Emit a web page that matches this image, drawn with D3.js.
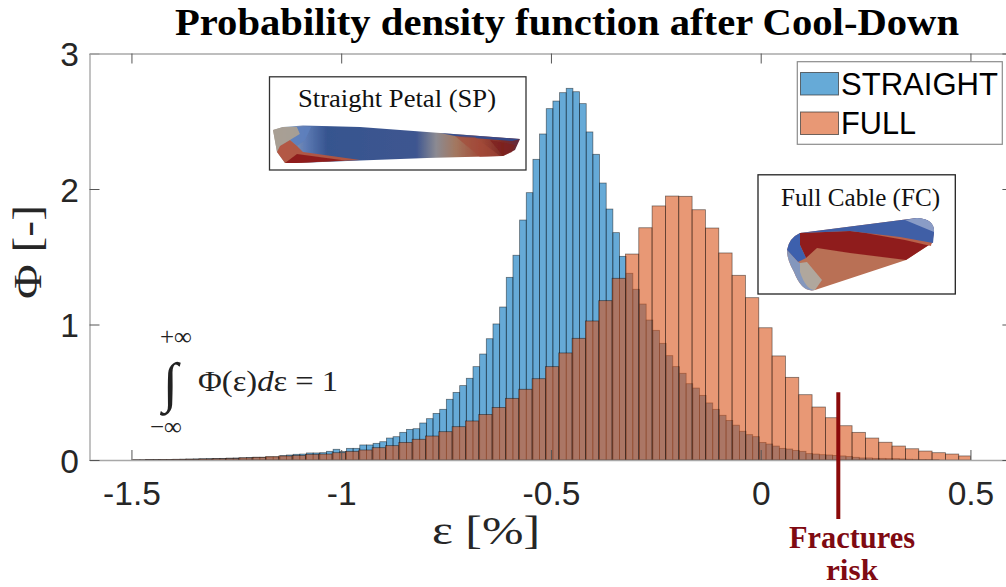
<!DOCTYPE html>
<html><head><meta charset="utf-8">
<script src="https://d3js.org/d3.v7.min.js"></script>
<style>html,body{margin:0;padding:0;background:#fff}svg{display:block}</style>
</head><body><svg id="c" width="1006" height="587"></svg>
<script>
const straightStart=-1.4955, straightWidth=0.015876;
const straightValues=[.002,.002,.003,.003,.004,.004,.005,.006,.007,.008,.009,.010,.011,.012,.014,.015,.016,.018,.020,.020,.022,.022,.032,.037,.042,.044,.052,.052,.054,.064,.079,.062,.086,.086,.111,.111,.123,.135,.162,.172,.204,.226,.231,.273,.305,.344,.374,.448,.499,.549,.603,.689,.782,.895,1.004,1.129,1.348,1.511,1.771,1.973,2.219,2.406,2.593,2.649,2.711,2.743,2.718,2.630,2.421,2.256,2.044,1.852,1.678,1.503,1.378,1.260,1.151,1.033,.957,.861,.770,.689,.640,.563,.531,.477,.421,.374,.330,.292,.257,.212,.187,.172,.130,.118,.103,.086,.081,.071,.064,.047,.044,.039,.037,.034,.030,.025,.020,.015,.015,.012,.012,.010,.010,.008,.006,.005,.004,.003,.002];
const fullStart=-1.4983, fullWidth=0.03178;
const fullValues=[.002,.003,.004,.005,.006,.008,.010,.012,.016,.020,.025,.030,.034,.042,.044,.054,.064,.074,.091,.106,.130,.153,.177,.209,.246,.288,.336,.388,.455,.522,.600,.689,.790,.898,1.026,1.176,1.341,1.520,1.714,1.875,1.948,1.946,1.847,1.712,1.528,1.363,1.198,.976,.768,.610,.482,.391,.312,.253,.204,.162,.131,.103,.083,.066,.054,.044,.030];
const xTicks=[-1.5,-1,-0.5,0,0.5], xTickLabels=["-1.5","-1","-0.5","0","0.5"];
const yTicks=[0,1,2,3], yTickLabels=["0","1","2","3"];
const seriesNames=["STRAIGHT","FULL"];
const fractureStrain=0.185, fractureValue=0.5;
const xLimits=[-1.6,0.6], yLimits=[0,3], dataEnd=0.5;

const svg=d3.select("#c");
const x=d3.scaleLinear().domain(xLimits).range([89.5,1012.4]);
const y=d3.scaleLinear().domain(yLimits).range([460,53.5]);
const blue="rgb(0,114,189)", orange="rgb(217,83,25)";
const sans="'Liberation Sans',Arial,sans-serif", serif="'Liberation Serif','Times New Roman',serif";

function hist(vals,start,w,col){
  svg.append("g").selectAll("rect").data(vals).join("rect")
   .attr("x",(d,i)=>x(start+i*w))
   .attr("width",(d,i)=>x(Math.min(start+(i+1)*w,dataEnd))-x(start+i*w))
   .attr("y",d=>y(d)).attr("height",d=>y(0)-y(d))
   .attr("fill",col).attr("fill-opacity",.6)
   .attr("stroke","#000").attr("stroke-opacity",.5).attr("stroke-width",.8);
}
hist(straightValues,straightStart,straightWidth,blue);
hist(fullValues,fullStart,fullWidth,orange);

function styleAxis(g){g.selectAll("path.domain").attr("stroke","#a8a8a8").attr("stroke-width",1.4);
  g.selectAll(".tick line").attr("stroke","#555").attr("stroke-width",1);}
const ax=svg.append("g").attr("transform",`translate(0,${y(0)})`)
 .call(d3.axisBottom(x).tickValues(xTicks).tickFormat((d,i)=>xTickLabels[i]).tickSizeInner(-10).tickSizeOuter(0).tickPadding(0));
styleAxis(ax);
ax.selectAll("text").attr("font-family",sans).attr("font-size",33.5).attr("fill","#262626").attr("y",45).attr("dy",0);
const ay=svg.append("g").attr("transform",`translate(${x(xLimits[0])},0)`)
 .call(d3.axisLeft(y).tickValues(yTicks).tickFormat((d,i)=>yTickLabels[i]).tickSizeInner(-10).tickSizeOuter(0).tickPadding(0));
styleAxis(ay);
ay.selectAll("text").attr("font-family",sans).attr("font-size",33.5).attr("fill","#262626").attr("x",-10.5).attr("dy",12);
const at=svg.append("g").attr("transform",`translate(0,${y(yLimits[1])})`)
 .call(d3.axisTop(x).tickValues(xTicks).tickFormat("").tickSizeInner(-10).tickSizeOuter(0));
styleAxis(at);
const ar=svg.append("g").attr("transform",`translate(${x(xLimits[1])},0)`)
 .call(d3.axisRight(y).tickValues(yTicks).tickFormat("").tickSizeInner(-10).tickSizeOuter(0));
styleAxis(ar);

function T(s,px,py,o={}){const t=svg.append("text").text(s).attr("x",px).attr("y",py)
  .attr("font-family",o.f||serif).attr("font-size",o.s||20).attr("fill",o.c||"#111")
  .attr("font-weight",o.w||"normal").attr("font-style",o.i?"italic":"normal").attr("text-anchor",o.a||"start");
  if(o.len)t.attr("textLength",o.len).attr("lengthAdjust","spacingAndGlyphs");
  if(o.rot)t.attr("transform",`rotate(${o.rot} ${px} ${py})`);return t;}

T("Probability density function after Cool-Down",175,35,{s:37,w:"bold",c:"#000",len:784});
T("ε [%]",486,544,{s:41,a:"middle",c:"#262626",len:108});
T("Φ [-]",41,252,{s:41,a:"middle",c:"#262626",rot:-90,len:94});

// legend
svg.append("rect").attr("x",797.3).attr("y",61.7).attr("width",205).attr("height",82.6).attr("fill","#fff").attr("stroke","#8c8c8c").attr("stroke-width",1.2);
[[blue,72.5,94.5,157],[orange,112,134,75]].forEach((r,i)=>{
 svg.append("rect").attr("x",800.5).attr("y",r[1]).attr("width",38).attr("height",22.5).attr("fill",r[0]).attr("fill-opacity",.6).attr("stroke","#333").attr("stroke-opacity",.7).attr("stroke-width",1);
 T(seriesNames[i],841,r[2],{f:sans,s:31,c:"#000",len:r[3]});
});

// gradients and soft edge for the two raster-like inset pictures
const defs=svg.append("defs");
function grad(id,stops){const g=defs.append("linearGradient").attr("id",id).attr("x1","0%").attr("y1","0%").attr("x2","100%").attr("y2","0%");
 stops.forEach(s=>g.append("stop").attr("offset",s[0]).attr("stop-color",s[1]));return g;}
grad("petal",[[0,"#a89b8f"],[.06,"#8f9fb0"],[.13,"#5f7cb5"],[.22,"#36548f"],[.58,"#3e5690"],[.66,"#8b8a92"],[.74,"#a3775f"],[.84,"#a04a38"],[.93,"#7d2a26"],[1,"#5f2b3f"]]);
defs.append("filter").attr("id","soft").append("feGaussianBlur").attr("stdDeviation",.7);

// inset 1
svg.append("rect").attr("x",269.5).attr("y",76.8).attr("width",256.5).attr("height",93.2).attr("fill","#fff").attr("stroke","#333").attr("stroke-width",1.3);
T("Straight Petal (SP)",298,106.5,{s:26,len:198});
const pet=svg.append("g").attr("filter","url(#soft)");
const P=(g,pts,fill,op=1)=>g.append("polygon").attr("points",pts.map(p=>p.join(",")).join(" ")).attr("fill",fill).attr("fill-opacity",op);
P(pet,[[273,130],[283,127],[303,125.5],[360,127],[427,132],[520,139],[515,150],[503,156],[427,158],[360,160.5],[297,163],[285,163],[277,152]],"url(#petal)");
P(pet,[[273,130],[283,127],[297,127],[300,134],[290,140],[280,146],[277,152]],"#a99f94",.95);
P(pet,[[297,127],[311,127],[305,140],[297,146],[290,140],[300,134]],"#5d80bd",.9);
P(pet,[[277,152],[280,146],[290,140],[297,146],[303,152],[360,160],[297,163],[285,163]],"#b4553f",.95);
P(pet,[[285,163],[297,154],[345,160.5],[297,163]],"#8f1f1e");
P(pet,[[440,133],[520,139],[512,141],[460,137]],"#2e4c93",.9);
P(pet,[[455,136],[475,137],[500,156],[480,157]],"#a34a38",.6);
P(pet,[[490,140],[515,145],[512,152],[503,156]],"#7d1f1c",.7);

// inset 2
svg.append("rect").attr("x",758).attr("y",174.8).attr("width",197.3).attr("height",119.2).attr("fill","#fff").attr("stroke","#222").attr("stroke-width",1.3);
T("Full Cable (FC)",781,205.5,{s:26,len:159});
const cab=svg.append("g").attr("filter","url(#soft)");
cab.append("path").attr("d","M800,233 L917,218 Q935,219 934,233 L932,243 L906,260 L815,290 Q802,293 794,272 Q787,260 787,250 Q789,238 800,233Z").attr("fill","#b96f54");
P(cab,[[800,233],[850,231],[900,237],[932,243],[906,260],[850,253],[817,248],[806,258],[800,245]],"#8f1f1e");
P(cab,[[865,233],[900,236],[932,240],[931,246],[905,240]],"#b9604a");
cab.append("path").attr("d","M800,233 L917,218 Q935,219 934,233 L933,243 L900,237 L850,231 Z").attr("fill","#3f5ea6");
cab.append("path").attr("d","M905,220 L917,218 Q935,219 934,232 Z").attr("fill","#8a9cc6");
cab.append("path").attr("d","M787,250 Q789,238 800,233 L800,245 L806,258 L798,262 Z").attr("fill","#3d60ad");
cab.append("path").attr("d","M787,250 L798,262 L807,267 L815,290 Q802,293 794,272 Q787,260 787,250Z").attr("fill","#8497bd");
cab.append("path").attr("d","M800,263 L807,262 L822,280 L815,290 Q806,290 800,272Z").attr("fill","#b0a79d");

// formula
T("+∞",160,345,{s:25,c:"#222"});
T("∫",163,401,{s:55,c:"#222"});
T("−∞",150,435,{s:25,c:"#222"});
const eq=T("",198,391,{s:29,c:"#222",len:140});
eq.append("tspan").text("Φ(ε)");
eq.append("tspan").attr("font-style","italic").text("d");
eq.append("tspan").text("ε = 1");

// fracture marker
svg.append("line").attr("x1",x(fractureStrain)).attr("x2",x(fractureStrain)).attr("y1",y(fractureValue)).attr("y2",519).attr("stroke","#8b0a0a").attr("stroke-width",4);
T("Fractures",852,548,{s:31,w:"bold",c:"#7f0a12",a:"middle",len:126});
T("risk",852,580,{s:29,w:"bold",c:"#7f0a12",a:"middle",len:52});
</script></body></html>
